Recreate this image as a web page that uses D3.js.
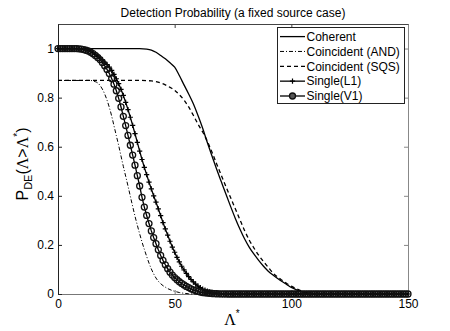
<!DOCTYPE html>
<html>
<head>
<meta charset="utf-8">
<script src="https://cdn.jsdelivr.net/npm/d3@7"></script>
<style>
  body { margin: 0; background: #fff; }
  svg { display: block; font-family: "Liberation Sans", Arial, sans-serif; }
</style>
</head>
<body>
<svg width="450" height="331"></svg>
<script>
// threshold grid used by the two single-detector curves (one marker per step)
const lambda = d3.range(0, 151);

const singleL1 = [
  1, 1, 1, 1, 1, 1, 1, 1, 1,
  0.999, 0.998, 0.997, 0.995, 0.992, 0.988, 0.983, 0.977, 0.97, 0.962,
  0.954, 0.945, 0.935, 0.924, 0.911, 0.895, 0.877, 0.857, 0.834, 0.809,
  0.781, 0.751, 0.72, 0.687, 0.653, 0.618, 0.582, 0.548, 0.516, 0.486,
  0.456, 0.428, 0.4, 0.374, 0.347, 0.319, 0.291, 0.265, 0.24, 0.215,
  0.191, 0.17, 0.149, 0.131, 0.113, 0.098, 0.084, 0.071, 0.059, 0.049,
  0.04, 0.032, 0.026, 0.02, 0.016, 0.012, 0.009, 0.007, 0.005, 0.0035,
  0.0025, 0.0018, 0.0012, 0.0008, 0.0005, 0.0003, 0.0002, 0.0001,
  0, 0, 0, 0, 0, 0, 0, 0, 0, 0,
  0, 0, 0, 0, 0, 0, 0, 0, 0, 0,
  0, 0, 0, 0, 0, 0, 0, 0, 0, 0,
  0, 0, 0, 0, 0, 0, 0, 0, 0, 0,
  0, 0, 0, 0, 0, 0, 0, 0, 0, 0,
  0, 0, 0, 0, 0, 0, 0, 0, 0, 0,
  0, 0, 0, 0, 0, 0, 0, 0, 0, 0,
  0, 0, 0, 0
];

const singleV1 = [
  1, 1, 1, 1, 1, 1, 1, 1, 1,
  0.999, 0.998, 0.996, 0.993, 0.99, 0.985, 0.979, 0.972, 0.964, 0.955,
  0.943, 0.93, 0.915, 0.898, 0.878, 0.855, 0.828, 0.797, 0.762, 0.724,
  0.686, 0.646, 0.606, 0.566, 0.525, 0.482, 0.44, 0.394, 0.354, 0.32,
  0.287, 0.257, 0.23, 0.205, 0.18, 0.157, 0.137, 0.119, 0.103, 0.089,
  0.077, 0.067, 0.058, 0.05, 0.043, 0.037, 0.031, 0.026, 0.021, 0.017,
  0.014, 0.011, 0.008, 0.006, 0.005, 0.004, 0.003, 0.002, 0.0015, 0.001,
  0.0007, 0.0005, 0.0003, 0.0002, 0.0001,
  0, 0, 0, 0, 0, 0, 0, 0, 0, 0,
  0, 0, 0, 0, 0, 0, 0, 0, 0, 0,
  0, 0, 0, 0, 0, 0, 0, 0, 0, 0,
  0, 0, 0, 0, 0, 0, 0, 0, 0, 0,
  0, 0, 0, 0, 0, 0, 0, 0, 0, 0,
  0, 0, 0, 0, 0, 0, 0, 0, 0, 0,
  0, 0, 0, 0, 0, 0, 0, 0, 0, 0,
  0, 0, 0, 0, 0, 0, 0
];

const coherentX = [0, 10, 20, 30, 35, 38, 40, 42, 44, 46, 48, 50, 52, 54, 56, 58, 60, 62, 64, 66, 68, 70,
  72, 74, 76, 78, 80, 82, 84, 86, 88, 90, 92, 94, 96, 98, 100, 102, 104, 106, 108, 110, 115, 120, 150];
const coherentY = [1, 1, 1, 1, 1, 0.998, 0.994, 0.985, 0.972, 0.958, 0.942, 0.924, 0.89, 0.852, 0.815, 0.775,
  0.727, 0.675, 0.617, 0.562, 0.508, 0.457, 0.406, 0.356, 0.308, 0.264, 0.224, 0.19, 0.162, 0.137, 0.114,
  0.094, 0.078, 0.064, 0.051, 0.039, 0.027, 0.018, 0.011, 0.006, 0.003, 0.001, 0, 0, 0];

const andX = [0, 10, 14, 15, 16, 17, 18, 19, 20, 21, 22, 23, 24, 25, 26, 27, 28, 29, 30, 31, 32, 33, 34, 35,
  36, 37, 38, 39, 40, 41, 42, 43, 44, 45, 46, 47, 48, 49, 50, 52, 54, 56, 58, 60, 80, 150];
const andY = [0.87, 0.87, 0.87, 0.868, 0.865, 0.86, 0.85, 0.835, 0.815, 0.79, 0.76, 0.725, 0.685, 0.645,
  0.605, 0.562, 0.52, 0.48, 0.44, 0.398, 0.357, 0.317, 0.28, 0.245, 0.212, 0.182, 0.153, 0.126, 0.102,
  0.082, 0.065, 0.052, 0.042, 0.034, 0.028, 0.022, 0.018, 0.014, 0.011, 0.006, 0.003, 0.001, 0, 0, 0, 0];

const sqsX = [0, 10, 20, 30, 36, 40, 42, 44, 46, 48, 50, 52, 54, 56, 58, 60, 62, 64, 66, 68, 70, 72, 74, 76,
  78, 80, 82, 84, 86, 88, 90, 92, 94, 96, 98, 100, 102, 104, 106, 108, 110, 115, 120, 150];
const sqsY = [0.87, 0.87, 0.87, 0.87, 0.87, 0.868, 0.865, 0.86, 0.852, 0.842, 0.83, 0.812, 0.79, 0.762,
  0.728, 0.692, 0.66, 0.622, 0.578, 0.53, 0.483, 0.437, 0.392, 0.347, 0.302, 0.258, 0.219, 0.187, 0.158,
  0.133, 0.11, 0.087, 0.07, 0.056, 0.043, 0.032, 0.022, 0.014, 0.008, 0.004, 0.002, 0, 0, 0];

const xTicks = [0, 50, 100, 150];
const yTicks = [0, 0.2, 0.4, 0.6, 0.8, 1];
const legendNames = ['Coherent', 'Coincident (AND)', 'Coincident (SQS)', 'Single(L1)', 'Single(V1)'];

/**
 * Detection probability curves, drawn MATLAB-style (boxed axes, inward ticks)
 */
class DetectionPlot {
    constructor(sel) {
        this.svg = d3.select(sel);
        this.x = d3.scaleLinear().domain([0, 150]).range([58, 408]);
        this.y = d3.scaleLinear().domain([0, 1.1]).range([294, 24]);
        const zip = (xs, ys) => ys.map((v, i) => [xs[i], v]);
        this.series = [
            { name: legendNames[0], pts: zip(coherentX, coherentY), dash: null, width: 1.3, marker: null, smooth: true },
            { name: legendNames[1], pts: zip(andX, andY), dash: '4,2,1,2', width: 1, marker: null, smooth: true },
            { name: legendNames[2], pts: zip(sqsX, sqsY), dash: '4,3', width: 1.3, marker: null, smooth: true },
            { name: legendNames[3], pts: zip(lambda, singleL1), dash: null, width: 1.3, marker: 'plus', smooth: false },
            { name: legendNames[4], pts: zip(lambda, singleV1), dash: null, width: 1.3, marker: 'circle', smooth: false }
        ];
        this.plusPath = 'M-2.6,0H2.6M0,-2.6V2.6';
    }

    draw() {
        this.drawAxes();
        this.drawSeries();
        this.drawLegend();
        this.drawLabels();
    }

    drawAxes() {
        const x = this.x, y = this.y;
        const style = (g, col) => {
            g.attr('font-family', '"Liberation Sans", Arial, sans-serif').attr('font-size', 12);
            g.selectAll('path.domain, line').attr('stroke', col);
            g.selectAll('text').attr('fill', '#000');
        };
        this.svg.append('g').attr('transform', 'translate(0,294)')
            .call(d3.axisBottom(x).tickValues(xTicks).tickSizeInner(-4).tickSizeOuter(0).tickPadding(5))
            .call(g => style(g, '#777'));
        this.svg.append('g').attr('transform', 'translate(0,24)')
            .call(d3.axisTop(x).tickValues(xTicks).tickSizeInner(-4).tickSizeOuter(0).tickFormat(''))
            .call(g => style(g, '#444'));
        this.svg.append('g').attr('transform', 'translate(58,0)')
            .call(d3.axisLeft(y).tickValues(yTicks).tickSizeInner(-4).tickSizeOuter(0).tickPadding(4)
                .tickFormat(d => d === 0 || d === 1 ? d3.format('d')(d) : d3.format('.1f')(d)))
            .call(g => style(g, '#222'));
        this.svg.append('g').attr('transform', 'translate(408,0)')
            .call(d3.axisRight(y).tickValues(yTicks).tickSizeInner(-4).tickSizeOuter(0).tickFormat(''))
            .call(g => style(g, '#888'));
    }

    drawSeries() {
        const x = this.x, y = this.y;
        this.series.forEach(s => {
            const line = d3.line()
                .x(d => x(d[0]))
                .y(d => y(d[1]))
                .curve(s.smooth ? d3.curveMonotoneX : d3.curveLinear);
            this.svg.append('path')
                .datum(s.pts)
                .attr('d', line)
                .attr('fill', 'none')
                .attr('stroke', '#000')
                .attr('stroke-width', s.width)
                .attr('stroke-dasharray', s.dash);
            if (s.marker) this.drawMarkers(this.svg.append('g'), s.pts, s.marker);
        });
    }

    drawMarkers(g, pts, type) {
        const x = this.x, y = this.y;
        if (type === 'circle') {
            g.selectAll('circle').data(pts).enter().append('circle')
                .attr('cx', d => x(d[0])).attr('cy', d => y(d[1]))
                .attr('r', 3)
                .attr('fill', 'none').attr('stroke', '#111').attr('stroke-width', 1.3);
        } else {
            g.selectAll('path').data(pts).enter().append('path')
                .attr('transform', d => 'translate(' + x(d[0]) + ',' + y(d[1]) + ')')
                .attr('d', this.plusPath)
                .attr('stroke', '#000').attr('stroke-width', 1.2);
        }
    }

    drawLegend() {
        const lg = this.svg.append('g');
        lg.append('rect')
            .attr('x', 277.5).attr('y', 27.5).attr('width', 127).attr('height', 76)
            .attr('fill', '#fff').attr('stroke', '#222').attr('stroke-width', 1);
        this.series.forEach((s, i) => {
            const cy = 36.6 + i * 14.85;
            lg.append('line')
                .attr('x1', 280).attr('x2', 305).attr('y1', cy).attr('y2', cy)
                .attr('stroke', '#000').attr('stroke-width', s.width)
                .attr('stroke-dasharray', s.dash);
            if (s.marker === 'circle') {
                lg.append('circle').attr('cx', 292.5).attr('cy', cy).attr('r', 3)
                    .attr('fill', '#555').attr('stroke', '#111').attr('stroke-width', 1.3);
            } else if (s.marker === 'plus') {
                lg.append('path').attr('transform', 'translate(292.5,' + cy + ')')
                    .attr('d', this.plusPath).attr('stroke', '#000').attr('stroke-width', 1.2);
            }
            lg.append('text')
                .attr('x', 306.5).attr('y', cy + 4.3)
                .attr('font-size', 12)
                .text(s.name);
        });
    }

    drawLabels() {
        this.svg.append('text')
            .attr('x', 233).attr('y', 17)
            .attr('text-anchor', 'middle')
            .attr('font-size', 12)
            .text('Detection Probability (a fixed source case)');

        const xl = this.svg.append('text')
            .attr('x', 232).attr('y', 325)
            .attr('text-anchor', 'middle')
            .attr('font-size', 16);
        xl.append('tspan').attr('font-family', '"Liberation Serif", serif').text('Λ');
        xl.append('tspan').attr('font-size', 10).attr('dy', -8).text('*');

        const yl = this.svg.append('text')
            .attr('transform', 'translate(28,164) rotate(-90)')
            .attr('text-anchor', 'middle')
            .attr('font-size', 16);
        yl.append('tspan').text('P');
        yl.append('tspan').attr('font-size', 11).attr('dy', 4).text('DE');
        yl.append('tspan').attr('dy', -4).text('(');
        yl.append('tspan').attr('font-family', '"Liberation Serif", serif').text('Λ');
        yl.append('tspan').text('>');
        yl.append('tspan').attr('font-family', '"Liberation Serif", serif').text('Λ');
        yl.append('tspan').attr('font-size', 10).attr('dy', -7).text('*');
        yl.append('tspan').attr('dy', 7).text(')');
    }
}

const plot = new DetectionPlot('svg');
plot.draw();
</script>
</body>
</html>
